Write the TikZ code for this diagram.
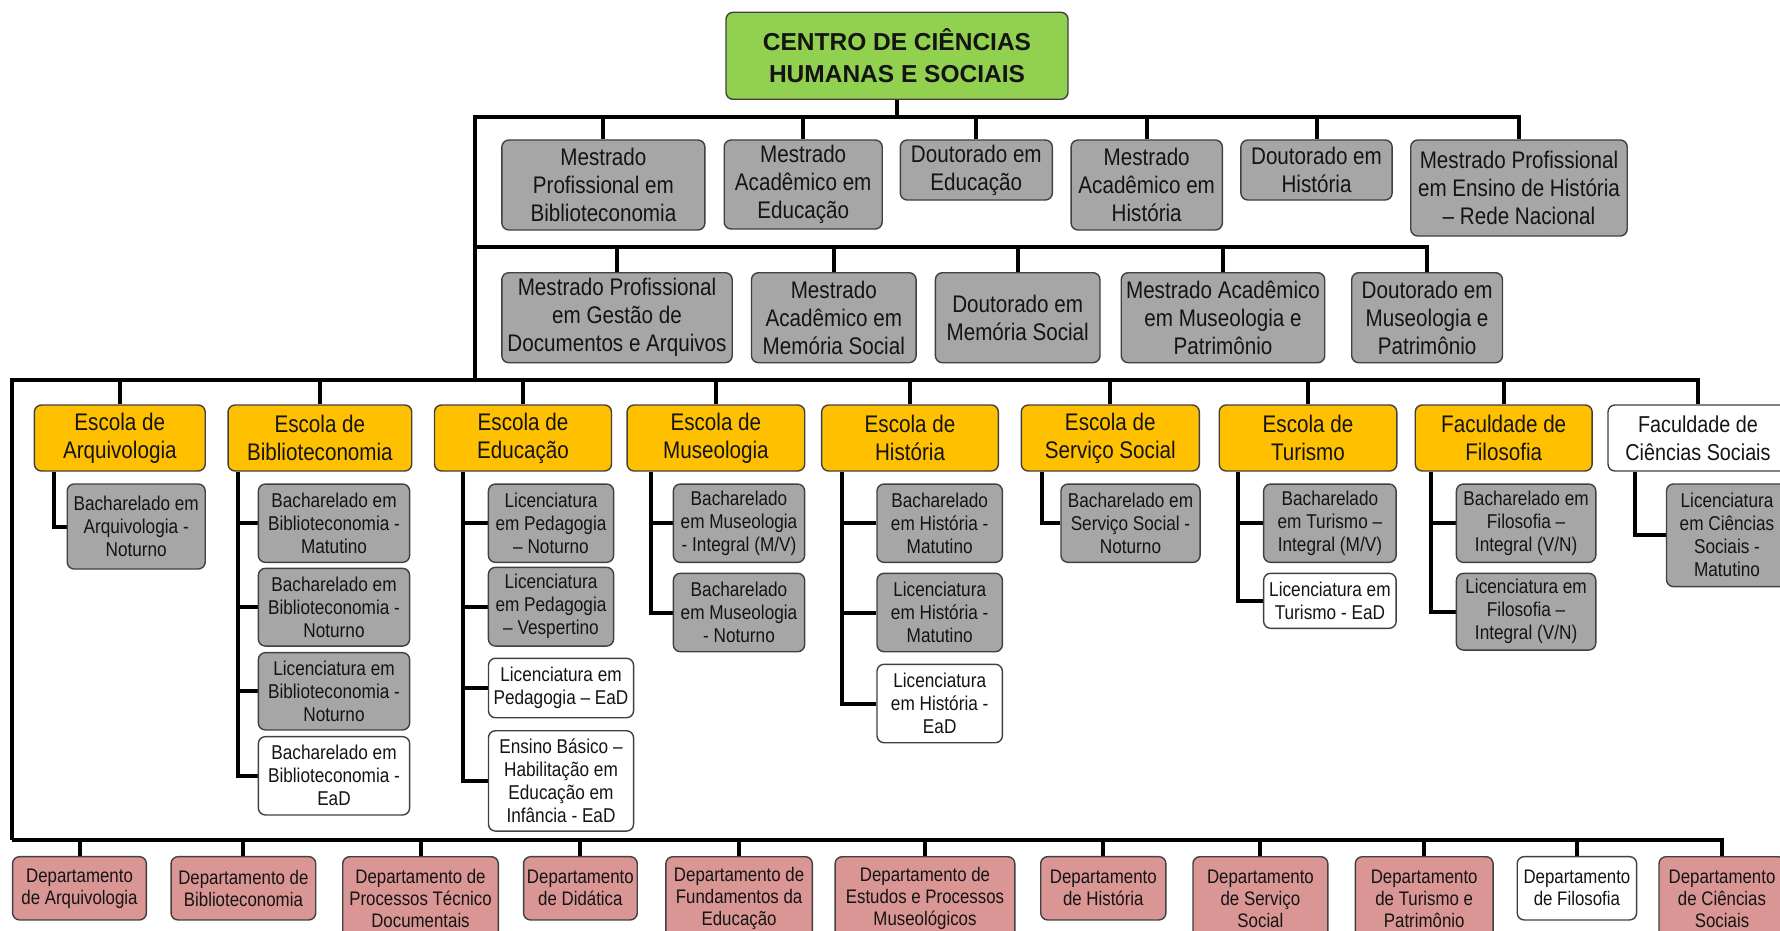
\documentclass[tikz,border=0pt]{standalone}
\usepackage{fontspec}
\setmainfont{Liberation Sans}[FakeStretch=0.86]
\newfontfamily\rootfont{Liberation Sans}
\usetikzlibrary{backgrounds}
\definecolor{boxgray}{HTML}{A6A6A6}
\definecolor{schoolyellow}{HTML}{FFC000}
\definecolor{deptpink}{HTML}{DA9694}
\definecolor{rootgreen}{HTML}{92D050}
\definecolor{bordc}{HTML}{404040}
\definecolor{txtc}{HTML}{141414}
\tikzset{
  bx/.style={draw=bordc, line width=1.4pt, rounded corners=7pt, align=center, inner sep=0pt, text=txtc},
  sz/.style 2 args={minimum width=#1pt, minimum height=#2pt},
  prog/.style={bx, fill=boxgray, font=\fontsize{24}{28}\selectfont},
  school/.style={bx, fill=schoolyellow, font=\fontsize{24}{28}\selectfont},
  schoolw/.style={bx, fill=white, font=\fontsize{23}{28}\selectfont},
  crs/.style={bx, fill=boxgray, font=\fontsize{20}{23}\selectfont},
  crsw/.style={bx, fill=white, font=\fontsize{20}{23}\selectfont},
  dept/.style={bx, fill=deptpink, font=\fontsize{19.6}{22}\selectfont},
  deptw/.style={bx, fill=white, font=\fontsize{19.6}{22}\selectfont},
  conn/.style={line width=4pt, draw=black},
}
\begin{document}
\begin{tikzpicture}[x=1pt,y=-1pt]
\useasboundingbox (0,0) rectangle (1780,931);
% root
\node[bx, fill=rootgreen, sz={342}{87}, font=\rootfont\bfseries\fontsize{24.5}{32}\selectfont] (root) at (897,55.8) {CENTRO DE CIÊNCIAS\\HUMANAS E SOCIAIS};
% row 1
\node[prog, sz={203}{90}] (A) at (603.4,185) {Mestrado\\Profissional em\\Biblioteconomia};
\node[prog, sz={158}{89}] (B) at (803.2,184.5) {Mestrado\\Acadêmico em\\Educação};
\node[prog, sz={152}{60}] (C) at (976.3,170) {Doutorado em\\Educação};
\node[prog, sz={151.3}{90}] (D) at (1146.7,185) {Mestrado\\Acadêmico em\\História};
\node[prog, sz={151.3}{60}] (E) at (1316.5,170) {Doutorado em\\História};
\node[prog, sz={216.5}{96}] (F) at (1519,188) {Mestrado Profissional\\em Ensino de História\\– Rede Nacional};
% row 2
\node[prog, sz={230.4}{90}] (G) at (617,317.7) {Mestrado Profissional\\em Gestão de\\Documentos e Arquivos};
\node[prog, sz={164.6}{90}] (H) at (833.8,317.7) {Mestrado\\Acadêmico em\\Memória Social};
\node[prog, sz={164.6}{90}] (I) at (1017.7,317.7) {Doutorado em\\Memória Social};
\node[prog, sz={203.5}{90}] (J) at (1223,317.7) {Mestrado Acadêmico\\em Museologia e\\Patrimônio};
\node[prog, sz={150.8}{90}] (K) at (1427.1,317.7) {Doutorado em\\Museologia e\\Patrimônio};
% schools
\node[school, sz={170.8}{66}] (S1) at (119.8,438) {Escola de\\Arquivologia};
\node[school, sz={183.7}{66}] (S2) at (319.9,438) {Escola de\\Biblioteconomia};
\node[school, sz={177}{66}] (S3) at (523,438) {Escola de\\Educação};
\node[school, sz={177.6}{66}] (S4) at (715.9,438) {Escola de\\Museologia};
\node[school, sz={176.7}{66}] (S5) at (910,438) {Escola de\\História};
\node[school, sz={178}{66}] (S6) at (1110.3,438) {Escola de\\Serviço Social};
\node[school, sz={177.6}{66}] (S7) at (1308,438) {Escola de\\Turismo};
\node[school, sz={176.9}{66}] (S8) at (1503.7,438) {Faculdade de\\Filosofia};
\node[schoolw, sz={180}{66}] (S9) at (1698,438) {Faculdade de\\Ciências Sociais};
% courses
\node[crs, sz={138}{85}] (c11) at (136.2,526.5) {Bacharelado em\\Arquivologia -\\Noturno};
\node[crs, sz={151.3}{78.3}] (c21) at (334,523.2) {Bacharelado em\\Biblioteconomia -\\Matutino};
\node[crs, sz={151.3}{77.7}] (c22) at (334,607.2) {Bacharelado em\\Biblioteconomia -\\Noturno};
\node[crs, sz={151.3}{77.3}] (c23) at (334,691.3) {Licenciatura em\\Biblioteconomia -\\Noturno};
\node[crsw, sz={151.3}{78.3}] (c24) at (334,775.8) {Bacharelado em\\Biblioteconomia -\\EaD};
\node[crs, sz={125.2}{78.3}] (c31) at (551,523.2) {Licenciatura\\em Pedagogia\\– Noturno};
\node[crs, sz={125.2}{78.7}] (c32) at (551,606.7) {Licenciatura\\em Pedagogia\\– Vespertino};
\node[crsw, sz={145.1}{59.4}] (c33) at (561,688) {Licenciatura em\\Pedagogia – EaD};
\node[crsw, sz={145.1}{100.3}] (c34) at (561,780.9) {Ensino Básico –\\Habilitação em\\Educação em\\Infância - EaD};
\node[crs, sz={131.3}{78.3}] (c41) at (739,523.2) {Bacharelado\\em Museologia\\- Integral (M/V)};
\node[crs, sz={131.3}{78.4}] (c42) at (739,612.5) {Bacharelado\\em Museologia\\- Noturno};
\node[crs, sz={125.4}{78.3}] (c51) at (939.7,523.2) {Bacharelado\\em História -\\Matutino};
\node[crs, sz={125.4}{78.4}] (c52) at (939.7,612.5) {Licenciatura\\em História -\\Matutino};
\node[crsw, sz={125.4}{78.4}] (c53) at (939.7,703.5) {Licenciatura\\em História -\\EaD};
\node[crs, sz={139.1}{78.3}] (c61) at (1130.5,523.2) {Bacharelado em\\Serviço Social -\\Noturno};
\node[crs, sz={132.5}{78.3}] (c71) at (1329.9,523.2) {Bacharelado\\em Turismo –\\Integral (M/V)};
\node[crsw, sz={132.5}{55}] (c72) at (1329.9,600.8) {Licenciatura em\\Turismo - EaD};
\node[crs, sz={139.4}{78.3}] (c81) at (1526.1,523.2) {Bacharelado em\\Filosofia –\\Integral (V/N)};
\node[crs, sz={139.4}{76.7}] (c82) at (1526.1,611.7) {Licenciatura em\\Filosofia –\\Integral (V/N)};
\node[crs, sz={121}{102.7}] (c91) at (1727,535.3) {Licenciatura\\em Ciências\\Sociais -\\Matutino};
% departments
\node[dept, sz={133.8}{63.3}] (D1) at (79.5,888.3) {Departamento\\de Arquivologia};
\node[dept, sz={144.7}{63.3}] (D2) at (243.4,888.3) {Departamento de\\Biblioteconomia};
\node[dept, sz={155.6}{84}] (D3) at (420.5,898.7) {Departamento de\\Processos Técnico\\Documentais};
\node[dept, sz={113.7}{63.3}] (D4) at (580.4,888.3) {Departamento\\de Didática};
\node[dept, sz={146.4}{84}] (D5) at (739.1,898.7) {Departamento de\\Fundamentos da\\Educação};
\node[dept, sz={179.7}{84}] (D6) at (925,898.7) {Departamento de\\Estudos e Processos\\Museológicos};
\node[dept, sz={125.2}{63.3}] (D7) at (1103.3,888.3) {Departamento\\de História};
\node[dept, sz={134.9}{84}] (D8) at (1260.4,898.7) {Departamento\\de Serviço\\Social};
\node[dept, sz={137.8}{84}] (D9) at (1424.2,898.7) {Departamento\\de Turismo e\\Patrimônio};
\node[deptw, sz={119.4}{63.3}] (D10) at (1576.9,888.3) {Departamento\\de Filosofia};
\node[dept, sz={126}{84}] (D11) at (1722,898.7) {Departamento\\de Ciências\\Sociais};
% connectors
\coordinate (b1) at (475,116.7);
\coordinate (b2) at (475,247.3);
\coordinate (b3) at (12,380);
\coordinate (b4) at (12,840);
\begin{pgfonlayer}{background}
\draw[conn] (root.south) -- (root.south |- b1);
\draw[conn] (F.north) |- (b1) -- (b1 |- b3);
\foreach \n in {A,B,C,D,E} \draw[conn] (\n.north) -- (\n.north |- b1);
\draw[conn] (b2) -| (K.north);
\foreach \n in {G,H,I,J} \draw[conn] (\n.north) -- (\n.north |- b2);
\draw[conn] (S9.north) |- (b3) -- (b4);
\foreach \n in {S1,S2,S3,S4,S5,S6,S7,S8} \draw[conn] (\n.north) -- (\n.north |- b3);
\draw[conn] (D11.north) |- (b4);
\foreach \n in {D1,D2,D3,D4,D5,D6,D7,D8,D9,D10} \draw[conn] (\n.north) -- (\n.north |- b4);
% course trunks
\coordinate (t1) at ([xshift=20pt]S1.south west);
\coordinate (t2) at ([xshift=10.4pt]S2.south west);
\coordinate (t3) at ([xshift=28.9pt]S3.south west);
\coordinate (t4) at ([xshift=24.4pt]S4.south west);
\coordinate (t5) at ([xshift=20.9pt]S5.south west);
\coordinate (t6) at ([xshift=21pt]S6.south west);
\coordinate (t7) at ([xshift=19pt]S7.south west);
\coordinate (t8) at ([xshift=16pt]S8.south west);
\coordinate (t9) at ([xshift=27.5pt]S9.south west);
\draw[conn] (t1) |- (c11.west);
\draw[conn] (t2) |- (c24.west);
\foreach \n in {c21,c22,c23} \draw[conn] (t2 |- \n.west) -- (\n.west);
\draw[conn] (t3) |- (c34.west);
\foreach \n in {c31,c32,c33} \draw[conn] (t3 |- \n.west) -- (\n.west);
\draw[conn] (t4) |- (c42.west);
\draw[conn] (t4 |- c41.west) -- (c41.west);
\draw[conn] (t5) |- (c53.west);
\foreach \n in {c51,c52} \draw[conn] (t5 |- \n.west) -- (\n.west);
\draw[conn] (t6) |- (c61.west);
\draw[conn] (t7) |- (c72.west);
\draw[conn] (t7 |- c71.west) -- (c71.west);
\draw[conn] (t8) |- (c82.west);
\draw[conn] (t8 |- c81.west) -- (c81.west);
\draw[conn] (t9) |- (c91.west);
\end{pgfonlayer}
\end{tikzpicture}
\end{document}
